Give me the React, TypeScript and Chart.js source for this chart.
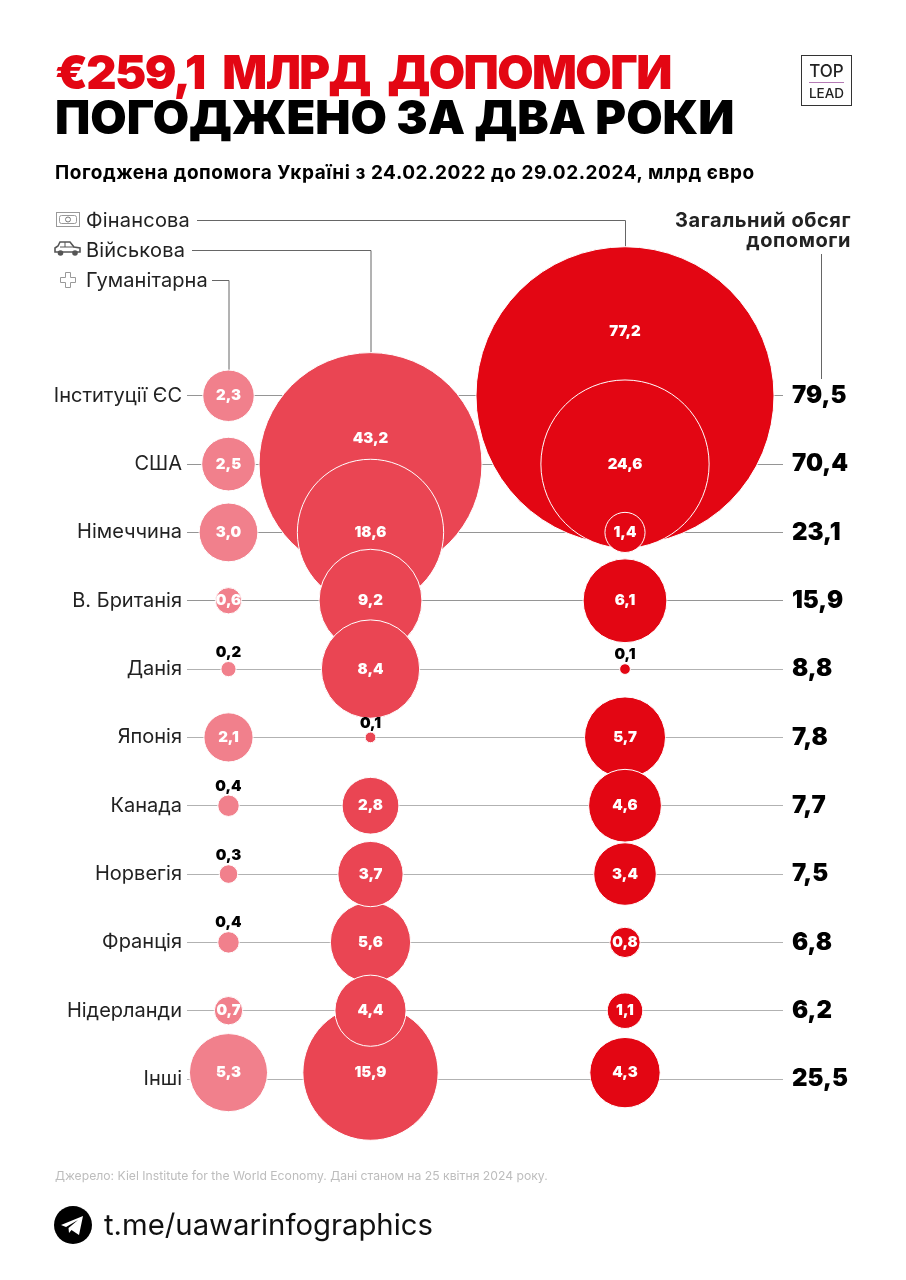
import React, { useEffect, useRef } from "react";
import { Chart, registerables } from "chart.js";

Chart.register(...registerables);

const countries = ["Інституції ЄС", "США", "Німеччина", "В. Британія", "Данія", "Японія", "Канада", "Норвегія", "Франція", "Нідерланди", "Інші"];
const humanitarian = [2.3, 2.5, 3.0, 0.6, 0.2, 2.1, 0.4, 0.3, 0.4, 0.7, 5.3];
const military = [null, 43.2, 18.6, 9.2, 8.4, 0.1, 2.8, 3.7, 5.6, 4.4, 15.9];
const financial = [77.2, 24.6, 1.4, 6.1, 0.1, 5.7, 4.6, 3.4, 0.8, 1.1, 4.3];
const totals = ["79,5", "70,4", "23,1", "15,9", "8,8", "7,8", "7,7", "7,5", "6,8", "6,2", "25,5"];

const FONT = "Inter, 'Noto Sans', sans-serif";
const RADIUS_K = 16.96;
const AREA = { left: 187, right: 783, top: 361.6, bottom: 1113.2 };
const COLS = { hum: 228.5, mil: 370.5, fin: 625 };

const radiusOf = (v: number) => Math.sqrt(v) * RADIUS_K;
const fmt = (v: number) => v.toFixed(1).replace(".", ",");

function points(values: (number | null)[], x: number) {
  return values
    .map((v, i) => ({ v, i }))
    .filter((d) => d.v != null)
    .sort((a, b) => (b.v as number) - (a.v as number))
    .map((d) => ({ x, y: countries[d.i], r: radiusOf(d.v as number), v: d.v }));
}

// Labels of the two largest circles sit above the nested circles
const labelShift: Record<string, number> = { "77.2": -64, "43.2": -26 };
// In the source the circles of the last row sit a little above their guide line
const rowNudge: Record<string, number> = { "Інші": -6.4 };

const nudgeRows = {
  id: "nudgeRows",
  afterDatasetsUpdate(chart: any) {
    chart.data.datasets.forEach((ds: any, di: number) => {
      chart.getDatasetMeta(di).data.forEach((el: any, i: number) => {
        el.y += rowNudge[ds.data[i].y] || 0;
      });
    });
  },
};

const valueLabels = {
  id: "valueLabels",
  afterDatasetsDraw(chart: any) {
    const ctx = chart.ctx;
    ctx.save();
    ctx.textAlign = "center";
    ctx.textBaseline = "middle";
    ctx.font = `900 15px ${FONT}`;
    chart.data.datasets.forEach((ds: any, di: number) => {
      const meta = chart.getDatasetMeta(di);
      meta.data.forEach((el: any, i: number) => {
        const d = ds.data[i];
        if (d.v < 0.5) {
          ctx.fillStyle = "#000";
          ctx.fillText(fmt(d.v), el.x, el.y - d.r - 9);
        } else {
          ctx.fillStyle = "#fff";
          ctx.fillText(fmt(d.v), el.x, el.y + (labelShift[String(d.v)] || 0));
        }
      });
    });
    ctx.restore();
  },
};

const leaders = {
  id: "leaders",
  beforeDatasetsDraw(chart: any) {
    const ctx = chart.ctx;
    const y = chart.scales.y;
    const x = chart.scales.x;
    const path = (pts: number[][]) => {
      ctx.beginPath();
      pts.forEach((p, i) => (i ? ctx.lineTo(p[0], p[1]) : ctx.moveTo(p[0], p[1])));
      ctx.stroke();
    };
    ctx.save();
    ctx.strokeStyle = "#666";
    ctx.lineWidth = 1;
    path([[197, 220.5], [x.getPixelForValue(COLS.fin) + 0.5, 220.5], [x.getPixelForValue(COLS.fin) + 0.5, y.getPixelForValue(0) - radiusOf(financial[0])]]);
    path([[192, 250.5], [x.getPixelForValue(COLS.mil) + 0.5, 250.5], [x.getPixelForValue(COLS.mil) + 0.5, y.getPixelForValue(1) - radiusOf(military[1] as number)]]);
    path([[212, 280.5], [x.getPixelForValue(COLS.hum) + 0.5, 280.5], [x.getPixelForValue(COLS.hum) + 0.5, y.getPixelForValue(0) - radiusOf(humanitarian[0])]]);
    path([[821.5, 254], [821.5, 379]]);
    ctx.restore();
  },
};

const abs = (left: number, top: number, fontSize: number, weight: number, color: string, extra: any = {}): React.CSSProperties => ({
  position: "absolute",
  left,
  top,
  fontSize,
  fontWeight: weight,
  color,
  fontFamily: FONT,
  lineHeight: 1,
  whiteSpace: "nowrap",
  ...extra,
});

export default function App() {
  const ref = useRef<HTMLCanvasElement>(null);
  useEffect(() => {
    const chart = new Chart(ref.current!, {
      type: "bubble",
      data: {
        datasets: [
          { label: "Фінансова", data: points(financial, COLS.fin), backgroundColor: "#e30613", borderColor: "#fff", borderWidth: 1, order: 0, clip: false },
          { label: "Військова", data: points(military, COLS.mil), backgroundColor: "#ea4553", borderColor: "#fff", borderWidth: 1, order: 1, clip: false },
          { label: "Гуманітарна", data: points(humanitarian, COLS.hum), backgroundColor: "#f1808c", borderColor: "#fff", borderWidth: 1, order: 2, clip: false },
        ] as any,
      },
      plugins: [nudgeRows, leaders, valueLabels],
      options: {
        animation: false,
        responsive: false,
        events: [],
        layout: { autoPadding: false, padding: { top: AREA.top, bottom: 1280 - AREA.bottom, left: 0, right: 0 } },
        plugins: { legend: { display: false }, tooltip: { enabled: false } },
        scales: {
          x: { type: "linear", min: AREA.left, max: AREA.right, display: false },
          y: {
            type: "category",
            labels: countries,
            offset: true,
            position: "left",
            afterFit: (s: any) => { s.width = AREA.left; },
            border: { display: false },
            grid: { color: (c: any) => (c.index < 4 ? "#959595" : "#b2b2b2"), lineWidth: 1, drawTicks: false, offset: false },
            ticks: { autoSkip: false, padding: 5, font: { family: FONT, size: 20, weight: 400 }, color: "#222" },
          },
          y2: {
            type: "category",
            labels: totals,
            offset: true,
            position: "right",
            afterFit: (s: any) => { s.width = 906 - AREA.right; },
            border: { display: false },
            grid: { display: false, drawTicks: false },
            ticks: { autoSkip: false, padding: 9, font: { family: FONT, size: 24, weight: 900 }, color: "#000" },
          },
        },
      } as any,
    });
    return () => chart.destroy();
  }, []);

  return (
    <div style={{ position: "absolute", left: 0, top: 0, width: 906, height: 1280, background: "#fff", overflow: "hidden" }}>
      <canvas ref={ref} width={906} height={1280} style={{ position: "absolute", left: 0, top: 0, display: "block" }} />
      <div style={abs(55, 48, 47, 900, "#e30613", { letterSpacing: -1.6, wordSpacing: 10 })}>€259,1 МЛРД ДОПОМОГИ</div>
      <div style={abs(55, 93, 47, 900, "#000")}>ПОГОДЖЕНО ЗА ДВА РОКИ</div>
      <div style={abs(55, 162.5, 19, 700, "#000", { letterSpacing: 0.56 })}>Погоджена допомога Україні з 24.02.2022 до 29.02.2024, млрд євро</div>

      <div style={abs(86, 209.5, 20, 400, "#222", { letterSpacing: 0.2 })}>Фінансова</div>
      <div style={abs(86, 239.5, 20, 400, "#222", { letterSpacing: 0.2 })}>Військова</div>
      <div style={abs(86, 269.5, 20, 400, "#222", { letterSpacing: 0.1 })}>Гуманітарна</div>
      <svg width={32} height={80} style={{ position: "absolute", left: 54, top: 210 }}>
        <rect x={2.5} y={2.5} width={23} height={14} fill="none" stroke="#999" />
        <rect x={5.5} y={5.5} width={17} height={8} rx={2} fill="none" stroke="#999" />
        <circle cx={14} cy={9.5} r={2.5} fill="none" stroke="#777" />
        <path d="M1 38 L4 36 L6 32 L16 32 L20 37 L26 38 L26 42 L1 42 Z" fill="#fff" stroke="#555" strokeWidth={1.6} />
        <path d="M11 32 V37 M6 37 H20" stroke="#555" strokeWidth={1} fill="none" />
        <circle cx={6.5} cy={43} r={2.8} fill="#555" />
        <circle cx={21} cy={43} r={2.8} fill="#555" />
        <path d="M11.5 62.5 h5 v5 h5 v5 h-5 v5 h-5 v-5 h-5 v-5 h5 Z" fill="none" stroke="#999" />
      </svg>

      <div style={abs(600, 210, 20, 700, "#222", { width: 251, textAlign: "right", lineHeight: "20px", whiteSpace: "normal", letterSpacing: 0.55 })}>
        Загальний обсяг<br />допомоги
      </div>

      <div style={{ position: "absolute", left: 801, top: 55, width: 49, height: 49, border: "1px solid #333", boxSizing: "content-box" }}>
        <div style={abs(0, 7, 17, 500, "#222", { width: 49, textAlign: "center" })}>TOP</div>
        <div style={{ position: "absolute", left: 7, top: 26, width: 35, height: 1, background: "#b57ab5" }} />
        <div style={abs(0, 31, 13.5, 500, "#222", { width: 49, textAlign: "center" })}>LEAD</div>
      </div>

      <div style={abs(55, 1170, 12.2, 400, "#bdbdbd")}>Джерело: Kiel Institute for the World Economy. Дані станом на 25 квітня 2024 року.</div>

      <svg width={38} height={38} style={{ position: "absolute", left: 54, top: 1206 }}>
        <circle cx={19} cy={19} r={19} fill="#000" />
        <path d="M7 19 L29 10 L25 29 L17.5 24 L15 27 L14.5 22 L24 14 L12 21 Z" fill="#fff" />
      </svg>
      <div style={abs(104, 1210, 29.3, 400, "#111")}>t.me/uawarinfographics</div>
    </div>
  );
}
